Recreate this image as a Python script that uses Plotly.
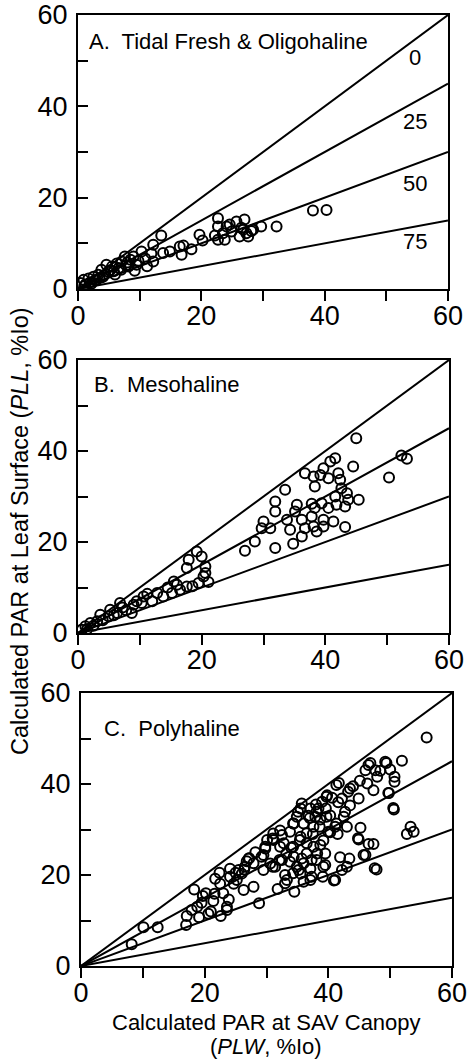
import plotly.graph_objects as go

# ---------------- data ----------------
attenuation_pct = [0, 25, 50, 75]
line_label_pos_a = [50.6, 36.6, 23.2, 10.3]

panel_titles = ["A.  Tidal Fresh &amp; Oligohaline", "B.  Mesohaline", "C.  Polyhaline"]

a_plw = [0.4, 0.9, 1.2, 1.7, 2.0, 2.5, 2.8, 3.3, 3.5, 3.8, 4.2, 4.6, 4.9, 5.5, 5.8, 6.3, 6.6, 7.1,
         7.6, 7.8, 8.2, 8.5, 9.0, 9.5, 9.8, 10.3, 10.9, 11.2, 11.9, 12.2, 12.2, 13.5, 13.8, 14.9,
         16.5, 16.8, 17.1, 18.4, 19.7, 20.2, 22.2, 22.7, 22.7, 22.7, 23.5, 23.8, 24.1, 24.6, 24.9,
         25.7, 26.2, 26.5, 26.8, 27.0, 27.3, 27.6, 28.1, 28.4, 29.7, 32.2, 38.1, 40.3,
         1.0, 2.2, 3.0, 4.0, 5.2, 6.0, 7.0, 8.0, 9.2]
a_pll = [1.3, 2.0, 1.0, 2.3, 1.5, 2.7, 1.9, 3.1, 2.4, 4.2, 3.0, 5.3, 3.8, 4.9, 3.9, 5.6, 4.6, 6.0,
         7.1, 5.2, 4.9, 6.4, 7.1, 5.3, 6.2, 8.2, 6.7, 5.0, 7.8, 9.7, 6.0, 11.7, 7.9, 8.2,
         9.3, 7.5, 9.5, 8.7, 11.9, 10.6, 11.7, 15.5, 13.7, 10.8, 12.2, 10.8, 13.7, 14.1, 12.6,
         14.8, 11.5, 13.4, 13.0, 15.2, 12.2, 11.5, 12.7, 13.0, 13.7, 13.7, 17.2, 17.3,
         0.6, 1.2, 2.0, 2.6, 4.1, 3.2, 4.2, 5.8, 4.0]

b_plw = [0.6, 1.2, 2.0, 3.1, 3.6, 4.95, 5.2, 6.3, 6.8, 7.2, 8.7, 9.0, 10.3, 10.6, 12.0, 12.8,
         13.8, 15.2, 15.5, 16.5, 17.6, 17.6, 17.9, 19.2, 19.5, 20.0, 20.3, 20.6, 20.6, 21.1,
         1.5, 2.5, 4.0, 5.8, 7.8, 9.5, 11.2, 14.5, 16.0, 18.5,
         27.0, 28.6, 29.7, 30.0, 31.1, 31.9, 31.9, 31.9, 33.5, 33.8, 34.3, 34.8, 35.1, 35.4,
         36.2, 36.2, 36.7, 36.7, 37.8, 37.8, 38.1, 38.1, 38.3, 38.3, 38.6, 39.2, 39.4, 39.7,
         39.7, 39.7, 40.5, 40.5, 40.8, 41.3, 41.6, 41.6, 41.8, 42.1, 42.4, 42.6, 43.2, 43.2,
         43.5, 43.7, 44.5, 45.0, 45.4, 50.3, 52.3, 53.2]
b_pll = [0.7, 1.5, 2.2, 2.6, 4.0, 3.7, 5.1, 4.4, 6.6, 5.6, 4.4, 6.2, 6.6, 8.0, 7.0, 8.8,
         8.0, 8.8, 11.3, 9.5, 10.2, 14.3, 16.1, 17.9, 11.0, 16.8, 12.4, 14.6, 13.2, 11.2,
         0.9, 1.6, 2.8, 3.9, 5.0, 7.0, 8.6, 10.0, 10.6, 10.3,
         18.1, 20.1, 23.0, 24.5, 23.0, 28.9, 26.7, 18.7, 31.5, 24.9, 22.7, 19.6, 26.7, 28.2,
         24.9, 21.2, 35.1, 23.0, 28.4, 25.6, 34.4, 23.4, 32.2, 27.5, 22.3, 34.7, 28.5, 36.2,
         24.9, 23.4, 34.0, 27.5, 37.7, 24.5, 38.4, 30.0, 28.2, 35.1, 33.7, 31.8, 23.3, 27.8,
         30.7, 29.3, 36.6, 42.8, 29.3, 34.2, 39.0, 38.3]

c_plw = [8.2, 10.1, 12.4, 17.0, 17.1, 17.9, 18.3, 19.1, 19.5, 19.7, 20.6, 21.4, 21.6, 21.7,
         22.4, 22.5, 22.6, 23.6, 23.6, 23.9, 24.1, 24.1, 24.7, 25.2, 25.5, 26.0, 26.3, 26.5,
         27.1, 27.9, 28.8, 29.5, 29.5, 29.8, 30.1, 31.1, 31.4, 31.8, 32.2, 32.2, 32.5, 33.3,
         33.8, 33.8, 34.4, 34.4, 34.5, 34.9, 34.9, 35.5, 35.5, 35.5, 35.7, 36.0, 36.0, 37.1,
         37.1, 37.1, 37.3, 37.6, 37.9, 38.2, 38.4, 38.7, 38.7, 39.0, 39.1, 39.5, 39.5, 39.6,
         39.8, 40.0, 40.3, 41.1, 41.1, 41.7, 42.2, 42.2, 42.5, 42.7, 43.0, 43.0, 43.4, 43.5,
         43.5, 44.9, 44.9, 45.1, 45.2, 46.0, 46.0, 46.3, 46.5, 46.8, 47.3, 47.3, 47.6, 47.8,
         47.9, 48.4, 49.4, 49.8, 50.0, 50.6, 50.7, 50.7, 51.9, 52.7, 53.3, 53.8, 55.9,
         18.8, 20.2, 21.0, 23.0, 25.0, 26.8, 28.2, 30.6, 31.0, 32.8, 33.0, 34.0, 36.5, 36.8,
         37.5, 38.0, 40.6, 41.5, 44.0,
         41.3, 46.5, 49.2, 50.5, 49.7, 47.5, 45.7, 44.8, 43.2, 41.6, 39.7, 35.1, 34.3, 32.5,
         31.1, 29.8, 29.2, 27.9, 27.2, 26.4, 33.0, 34.3, 37.3, 39.2, 40.9, 41.9, 39.2, 40.3,
         41.3, 38.6, 36.5, 35.4, 34.3, 33.2, 32.1, 31.0, 36.5, 37.6, 38.1, 36.0, 35.2, 37.0,
         38.1, 39.7, 35.7]
c_pll = [4.8, 8.5, 8.5, 9.0, 11.0, 12.3, 16.8, 10.7, 13.9, 15.4, 11.5, 14.3, 15.9, 19.2,
         20.5, 18.1, 11.0, 13.0, 12.3, 14.6, 21.4, 19.6, 18.1, 18.9, 21.1, 20.3, 16.7, 21.8,
         23.6, 17.4, 13.8, 24.4, 21.1, 25.8, 27.7, 29.1, 21.8, 16.9, 29.8, 26.2, 23.3, 18.9,
         29.5, 22.9, 31.3, 24.0, 16.3, 32.8, 21.8, 34.6, 28.4, 20.3, 23.6, 31.3, 18.5, 34.6,
         21.4, 18.9, 23.3, 30.6, 32.8, 24.7, 34.6, 32.2, 26.6, 36.1, 19.6, 24.7, 22.2, 34.6,
         37.5, 29.5, 33.1, 30.6, 18.9, 40.2, 36.8, 21.1, 32.8, 33.9, 30.6, 21.8, 23.6, 39.0,
         35.3, 36.8, 27.8, 40.7, 30.4, 43.0, 24.4, 40.1, 26.8, 44.6, 38.6, 26.8, 43.0, 21.2,
         41.6, 42.9, 44.6, 38.0, 43.2, 34.4, 41.6, 40.5, 45.1, 29.0, 30.6, 29.5, 50.2,
         13.0, 16.0, 12.0, 16.0, 20.5, 23.0, 25.0, 22.5, 28.0, 27.0, 20.0, 26.0, 27.0, 33.0,
         29.0, 35.5, 37.0, 29.0, 39.5,
         39.8, 44.2, 44.9, 34.7, 38.0, 21.5, 24.4, 28.1, 38.3, 36.0, 37.2, 33.9, 31.3, 28.8,
         27.7, 26.2, 24.0, 22.6, 23.7, 21.2, 18.2, 20.4, 19.6, 21.8, 18.8, 23.9, 27.6, 29.4,
         31.3, 30.6, 29.2, 27.7, 26.2, 24.7, 23.3, 21.8, 24.7, 26.2, 23.3, 22.6, 21.1, 32.5,
         33.9, 32.8, 35.7]

panel_x = [a_plw, b_plw, c_plw]
panel_y = [a_pll, b_pll, c_pll]

# ---------------- layout geometry (pixels) ----------------
W, H = 467, 1062


def px(p):
    return p / W


def py(p):
    return 1 - p / H


boxes = [(78, 448, 15, 289), (78, 449, 360, 633), (81, 452, 693, 966)]
title_pos = [(1.5, 54.3), (2.3, 54.7), (3.4, 52.3)]

FONT = "Liberation Sans, Arial, sans-serif"
fig = go.Figure()

for i in range(3):
    xa = "x" if i == 0 else f"x{i+1}"
    ya = "y" if i == 0 else f"y{i+1}"
    for f in attenuation_pct:
        xs = [0, 60]
        ys = [v * (1 - f / 100) for v in xs]
        fig.add_trace(go.Scatter(x=xs, y=ys, mode="lines", xaxis=xa, yaxis=ya,
                                 line=dict(color="black", width=2), showlegend=False,
                                 hoverinfo="skip"))
    fig.add_trace(go.Scatter(x=panel_x[i], y=panel_y[i], mode="markers", xaxis=xa, yaxis=ya,
                             marker=dict(symbol="circle-open", size=10, color="black",
                                         line=dict(width=2, color="black")),
                             showlegend=False))
    x0, x1, y0, y1 = boxes[i]
    axis_common = dict(range=[0, 60], showgrid=False, zeroline=False, showline=True,
                       linecolor="black", linewidth=2, mirror=True, automargin=False,
                       tickvals=[0, 10, 20, 30, 40, 50, 60],
                       ticktext=["0", "", "20", "", "40", "", "60"],
                       tickfont=dict(family=FONT, size=27, color="black"),
                       ticklen=10, tickwidth=2, tickcolor="black",
                       ticklabeloverflow="allow")
    fig.layout[f"xaxis{'' if i == 0 else i+1}"] = dict(
        axis_common, domain=[px(x0), px(x1)], anchor=ya, ticks="outside",
        ticklabelstandoff=-8)
    fig.layout[f"yaxis{'' if i == 0 else i+1}"] = dict(
        axis_common, domain=[py(y1), py(y0)], anchor=xa, ticks="inside",
        ticklabelstandoff=3)
    tx, ty = title_pos[i]
    fig.add_annotation(x=tx, y=ty, xref=xa, yref=ya, text=panel_titles[i], showarrow=False,
                       xanchor="left", yanchor="middle",
                       font=dict(family=FONT, size=22, color="black"))

for f, ly in zip(attenuation_pct, line_label_pos_a):
    fig.add_annotation(x=54.7, y=ly, xref="x", yref="y", text=str(f), showarrow=False,
                       xanchor="center", yanchor="middle",
                       font=dict(family=FONT, size=22, color="black"))

fig.add_annotation(x=px(20), y=py(531), xref="paper", yref="paper",
                   text="Calculated PAR at Leaf Surface (<i>PLL</i>, %Io)", textangle=-90,
                   showarrow=False, xanchor="center", yanchor="middle",
                   font=dict(family=FONT, size=23.5, color="black"))
fig.add_annotation(x=px(266), y=py(1022), xref="paper", yref="paper",
                   text="Calculated PAR at SAV Canopy", showarrow=False,
                   xanchor="center", yanchor="middle",
                   font=dict(family=FONT, size=22, color="black"))
fig.add_annotation(x=px(266), y=py(1046), xref="paper", yref="paper",
                   text="(<i>PLW</i>, %Io)", showarrow=False,
                   xanchor="center", yanchor="middle",
                   font=dict(family=FONT, size=22, color="black"))

fig.update_layout(width=W, height=H, margin=dict(l=0, r=0, t=0, b=0),
                  paper_bgcolor="white", plot_bgcolor="white")
# remove the default 8px page margin so the figure sits at the window's top-left corner
fig.write_html("out.html", config={"displayModeBar": False},
               post_script="document.body.style.margin='0';document.body.style.overflow='hidden';")
